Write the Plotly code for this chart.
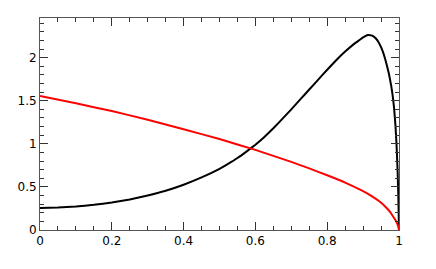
import plotly.graph_objects as go

black_x = [0, 0.05, 0.1, 0.15, 0.2, 0.25, 0.3, 0.35, 0.4, 0.45, 0.5, 0.525, 0.55, 0.575, 0.6, 0.625, 0.65, 0.675, 0.7,
           0.725, 0.75, 0.775, 0.8, 0.825, 0.85, 0.875, 0.89, 0.9, 0.913, 0.925, 0.935, 0.945, 0.955, 0.965, 0.972,
           0.978, 0.982, 0.986, 0.99, 0.993, 0.996, 0.998, 1.0]
black_y = [0.255, 0.26, 0.272, 0.292, 0.32, 0.355, 0.40, 0.455, 0.525, 0.61, 0.71, 0.77, 0.835, 0.91, 0.99, 1.08, 1.18, 1.29, 1.40,
           1.515, 1.63, 1.745, 1.86, 1.97, 2.07, 2.16, 2.205, 2.235, 2.262, 2.255, 2.225, 2.165, 2.07, 1.93, 1.81,
           1.68, 1.57, 1.43, 1.22, 1.0, 0.7, 0.42, 0.0]

red_x = [0, 0.1, 0.2, 0.3, 0.4, 0.5, 0.6, 0.7, 0.75, 0.8, 0.85, 0.9, 0.925, 0.946, 0.962, 0.974, 0.983, 0.99, 0.995, 0.998, 1.0]
red_y = [1.555, 1.47, 1.38, 1.28, 1.17, 1.055, 0.93, 0.79, 0.715, 0.635, 0.55, 0.45, 0.39, 0.33, 0.27, 0.215, 0.16, 0.115, 0.075, 0.04, 0.0]

x_ticks = [0, 0.2, 0.4, 0.6, 0.8, 1]
x_labels = ["0", "0.2", "0.4", "0.6", "0.8", "1"]
y_ticks = [0, 0.5, 1, 1.5, 2]
y_labels = ["0", "0.5", "1", "1.5", "2"]

fig = go.Figure()
fig.add_trace(go.Scatter(x=black_x, y=black_y, mode="lines", line=dict(color="black", width=2, shape="spline", smoothing=0.3)))
fig.add_trace(go.Scatter(x=red_x, y=red_y, mode="lines", line=dict(color="red", width=2, shape="spline", smoothing=0.3)))

axis_common = dict(showgrid=False, zeroline=False, showline=True, linecolor="#555", linewidth=1,
                   ticks="inside", mirror="allticks", tickcolor="#333", ticklen=8, tickwidth=1,
                   automargin=False,
                   tickfont=dict(family="DejaVu Sans", size=12, color="black"))

fig.update_xaxes(range=[0, 1], tickvals=x_ticks, ticktext=x_labels,
                 minor=dict(dtick=0.05, ticks="inside", ticklen=4, tickcolor="#333"), **axis_common)
fig.update_yaxes(range=[0, 2.46], tickvals=y_ticks, ticktext=y_labels,
                 minor=dict(dtick=0.1, ticks="inside", ticklen=4, tickcolor="#333"), **axis_common)

# page body has an 8px default margin, so the figure is sized/offset to compensate
fig.update_layout(width=428, height=261, margin=dict(l=32, r=37, t=10, b=39),
                  plot_bgcolor="white", paper_bgcolor="white", showlegend=False)
fig.write_html("out.html")
